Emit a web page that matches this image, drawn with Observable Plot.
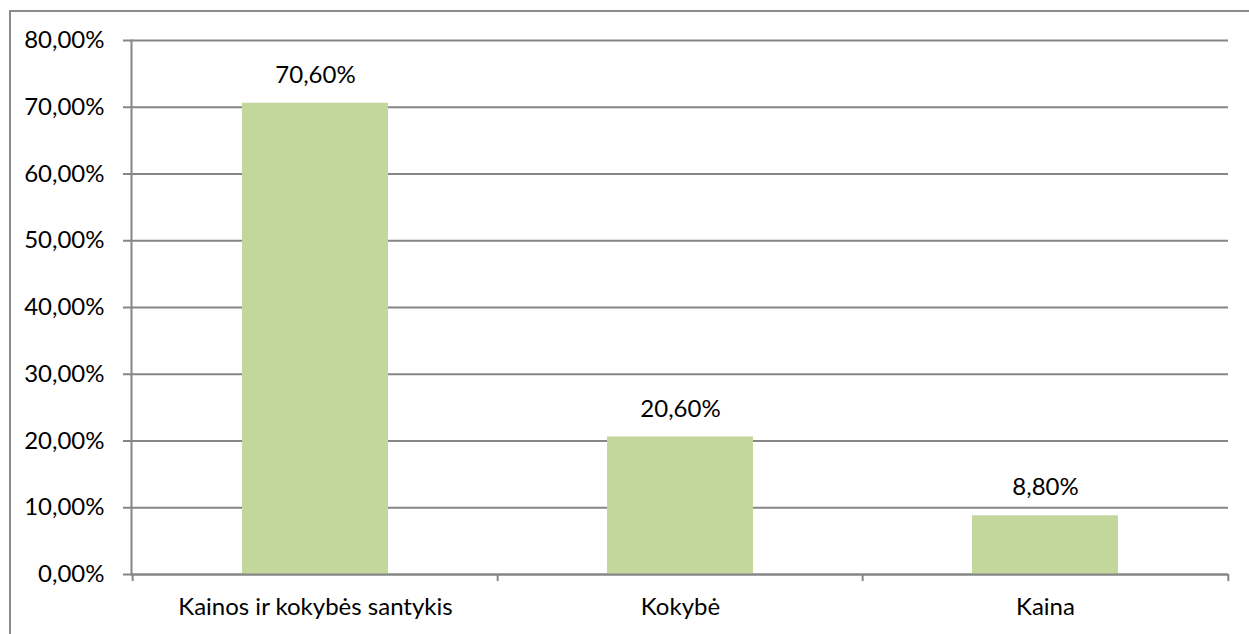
<!DOCTYPE html>
<html>
<head>
<meta charset="utf-8">
<script src="https://cdn.jsdelivr.net/npm/d3@7"></script>
<script src="https://cdn.jsdelivr.net/npm/@observablehq/plot@0.6"></script>
<style>
  html, body { margin: 0; padding: 0; background: #fff; }
  #chart { position: relative; width: 1249px; height: 634px; overflow: hidden; }
  #chart .border {
    position: absolute; left: 9px; top: 10px; right: 0; bottom: 0;
    border-top: 2px solid #8c8c8c; border-left: 2px solid #8c8c8c;
    pointer-events: none;
  }
  #chart svg { position: absolute; left: 0; top: 0; }
</style>
</head>
<body>
<div id="chart"><div class="border"></div></div>
<script>
// Survey answers: main criterion when choosing
const categories = ["Kainos ir kokybės santykis", "Kokybė", "Kaina"];
const shares = [0.706, 0.206, 0.088];
const yTicks = [0, 0.1, 0.2, 0.3, 0.4, 0.5, 0.6, 0.7, 0.8];

const data = categories.map((c, i) => ({category: c, share: shares[i]}));

// Lithuanian number format: comma as decimal separator
const lt = d3.formatLocale({decimal: ",", thousands: " ", grouping: [3], currency: ["", " €"]});
const pct = lt.format(".2%");

const width = 1249, height = 634;
const margin = {top: 40, right: 21, bottom: 60, left: 131};
const step = (width - margin.left - margin.right) / categories.length;
const gray = "#868686";
const font = "Lato, 'Open Sans', sans-serif";
const fs = 24;

const chart = Plot.plot({
  width, height,
  marginTop: margin.top, marginRight: margin.right,
  marginBottom: margin.bottom, marginLeft: margin.left,
  style: {fontFamily: font, fontSize: fs + "px", color: "#000", background: "transparent"},
  x: {domain: categories, paddingInner: 0.6, paddingOuter: 0.3, axis: null, label: null},
  y: {domain: [0, 0.8], axis: null, label: null},
  marks: [
    Plot.gridY(yTicks, {stroke: gray, strokeOpacity: 1, strokeWidth: 2}),
    Plot.barY(data, {x: "category", y: "share", fill: "#C3D69B"}),
    Plot.ruleY([0], {stroke: gray, strokeWidth: 2}),
    Plot.frame({anchor: "left", stroke: gray, strokeWidth: 2}),
    Plot.axisY({ticks: yTicks, tickFormat: pct, tickSize: 8, tickPadding: 19, label: null,
                stroke: gray, strokeWidth: 2, strokeOpacity: 1, fill: "#000", fontSize: fs}),
    // category boundary ticks below the axis
    Plot.ruleX(categories, {x: d => d, y1: 0, y2: 0, dx: -step / 2, insetBottom: -7, stroke: gray, strokeWidth: 2}),
    Plot.ruleX(categories.slice(-1), {x: d => d, y1: 0, y2: 0, dx: step / 2, insetBottom: -7, stroke: gray, strokeWidth: 2}),
    Plot.axisX({tickSize: 0, tickPadding: 23, label: null, fill: "#000", fontSize: fs}),
    Plot.text(data, {x: "category", y: "share", text: d => pct(d.share), dy: -28, fill: "#000", fontSize: fs})
  ]
});

document.getElementById("chart").appendChild(chart);
</script>
</body>
</html>
